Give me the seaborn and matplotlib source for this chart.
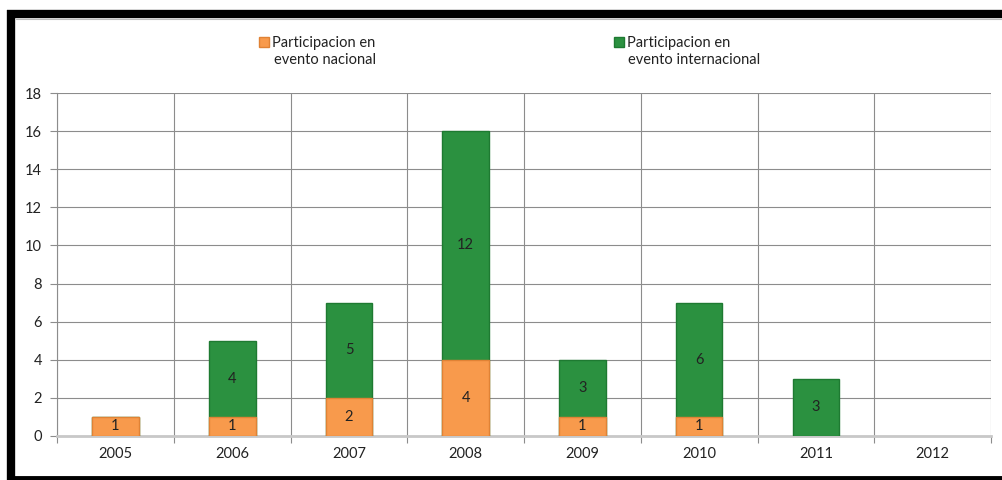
import numpy as np
import pandas as pd
import seaborn as sns
import matplotlib.pyplot as plt
from matplotlib.lines import Line2D
from matplotlib.patches import Patch

years = ["2005", "2006", "2007", "2008", "2009", "2010", "2011", "2012"]
nacional = [1, 1, 2, 4, 1, 1, 0, 0]
internacional = [0, 4, 5, 12, 3, 6, 3, 0]
label_nac = ["Participacion en", "evento nacional"]
label_int = ["Participacion en", "evento internacional"]

orange = "#F89A4C"
green = "#2B9140"

df = pd.DataFrame({"year": years, "nac": nacional, "int": internacional})
df["total"] = df["nac"] + df["int"]
# zero segments are not drawn at all
df["total_bar"] = df["total"].replace(0, np.nan)
df["nac_bar"] = df["nac"].replace(0, np.nan)

sns.set_style("white")
plt.rcParams["font.family"] = ["Lato", "DejaVu Sans"]

fig = plt.figure(figsize=(10.02, 4.8), dpi=100)
ax = fig.add_axes([0.057, 0.092, 0.932, 0.714])

# total first (green), then nacional on top of it -> stacked look
sns.barplot(data=df, x="year", y="total_bar", order=years, color=green, width=0.4,
            edgecolor="#1E7A31", linewidth=1, saturation=1, ax=ax, zorder=3)
sns.barplot(data=df, x="year", y="nac_bar", order=years, color=orange, width=0.4,
            edgecolor="#E08235", linewidth=1, saturation=1, ax=ax, zorder=4)

# data labels, middle of each segment
for i, row in df.iterrows():
    if row["nac"] > 0:
        ax.text(i, row["nac"] / 2, str(row["nac"]), ha="center", va="center",
                fontsize=10.5, color="#222222", zorder=5)
    if row["int"] > 0:
        ax.text(i, row["nac"] + row["int"] / 2, str(row["int"]), ha="center",
                va="center", fontsize=10.5, color="#222222", zorder=5)

ax.set_ylim(0, 18)
ax.set_xlim(-0.5, len(years) - 0.5)
ax.set_yticks(np.arange(0, 19, 2))
ax.set_xlabel("")
ax.set_ylabel("")

# gridlines: horizontal at each y tick, vertical between categories
ax.set_xticks(np.arange(-0.5, len(years), 1), minor=True)
ax.grid(axis="y", which="major", color="#8C8C8C", linewidth=0.8, zorder=0)
ax.grid(axis="x", which="minor", color="#8C8C8C", linewidth=0.8, zorder=0)
ax.set_axisbelow(True)
ax.tick_params(axis="x", which="major", length=0, pad=8, labelsize=10.5, colors="#222222")
ax.tick_params(axis="x", which="minor", length=5, color="#8C8C8C", width=0.8, bottom=True)
ax.tick_params(axis="y", length=5, color="#8C8C8C", width=0.8, left=True,
               labelsize=10.5, colors="#222222", pad=6)

for s in ["top", "right"]:
    ax.spines[s].set_visible(False)
ax.spines["left"].set_color("#8C8C8C")
ax.spines["left"].set_linewidth(0.8)
ax.spines["bottom"].set_color("#C8C8C8")
ax.spines["bottom"].set_linewidth(2)

# legend: marker next to first line, second line indented below
handles = [Patch(facecolor=orange, edgecolor="#E08235"),
           Patch(facecolor=green, edgecolor="#1E7A31")]
fig.legend(handles, [label_nac[0], label_int[0]], ncol=2, loc="upper left",
           bbox_to_anchor=(0.258, 0.924), frameon=False, fontsize=10.5,
           handlelength=0.7, handleheight=0.7, handletextpad=0.2,
           borderpad=0, borderaxespad=0,
           columnspacing=16.4, labelcolor="#222222")
fig.text(0.273, 0.875, label_nac[1], fontsize=10.5, color="#222222", va="center")
fig.text(0.627, 0.875, label_int[1], fontsize=10.5, color="#222222", va="center")

# black frame around chart
frame = dict(color="black", transform=fig.transFigure, solid_capstyle="butt")
fig.add_artist(Line2D([0.007, 1.0], [0.971, 0.971], lw=6, **frame))
fig.add_artist(Line2D([0.011, 0.011], [0.0, 0.979], lw=6, **frame))
fig.add_artist(Line2D([0.007, 1.0], [0.004, 0.004], lw=3.5, **frame))
fig.add_artist(Line2D([0.016, 1.0], [0.960, 0.960], color="#BBBBBB", lw=0.8,
                      transform=fig.transFigure))

fig.savefig("out.png", dpi=100)
